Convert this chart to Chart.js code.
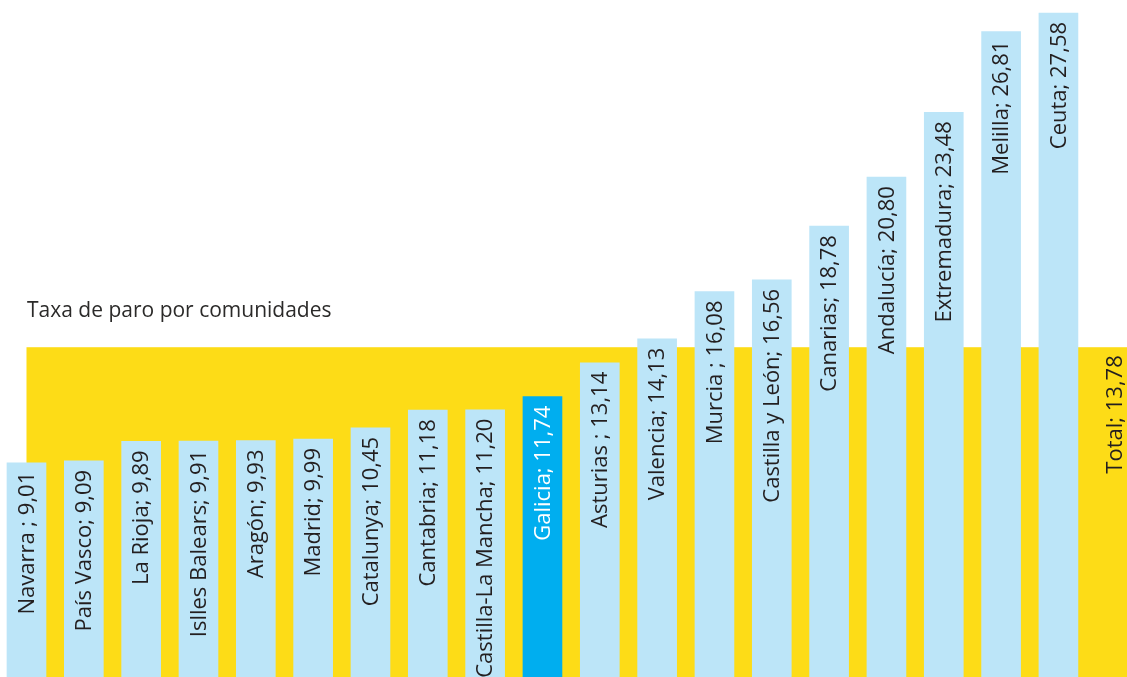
<!DOCTYPE html>
<html>
<head>
<meta charset="utf-8">
<script src="https://cdn.jsdelivr.net/npm/chart.js@4.4.1/dist/chart.umd.min.js"></script>
<style>
  html, body { margin: 0; padding: 0; background: #ffffff; overflow: hidden; }
  #wrap { position: relative; width: 1127px; height: 677px; }
  #title { position: absolute; left: 27px; top: 295px; font-family: "Open Sans", sans-serif; font-size: 21px; line-height: 28px; color: #2b2a29; white-space: nowrap; z-index: 2; }
  canvas { position: absolute; left: 0; top: 0; }
</style>
</head>
<body>
<div id="wrap">
  <canvas id="c" width="1127" height="677"></canvas>
  <div id="title">Taxa de paro por comunidades</div>
</div>
<script>
// ---- data ----
const categories = ["Navarra ", "País Vasco", "La Rioja", "Islles Balears", "Aragón", "Madrid", "Catalunya", "Cantabria", "Castilla-La Mancha", "Galicia", "Asturias ", "Valencia", "Murcia ", "Castilla y León", "Canarias", "Andalucía", "Extremadura", "Melilla", "Ceuta"];
const values = [9.01, 9.09, 9.89, 9.91, 9.93, 9.99, 10.45, 11.18, 11.20, 11.74, 13.14, 14.13, 16.08, 16.56, 18.78, 20.80, 23.48, 26.81, 27.58];
const totalLabel = "Total";
const totalValue = 13.78;
const highlight = "Galicia";

const fmt = v => v.toFixed(2).replace('.', ',');
const barLabels = categories.map((c, i) => c + "; " + fmt(values[i]));

const LIGHT = '#bce5f8', STRONG = '#00aeef', YELLOW = '#fddc17', TEXT = '#231f20';

const points = values.map((v, i) => ({ x: i, y: v }));
const colors = categories.map(c => c === highlight ? STRONG : LIGHT);

const FONT = '22px "Open Sans", sans-serif';

const bandPlugin = {
  id: 'band',
  beforeDatasetsDraw(chart) {
    const { ctx, chartArea, scales } = chart;
    const x0 = scales.x.getPixelForValue(0);
    const yTop = scales.y.getPixelForValue(totalValue);
    ctx.save();
    ctx.fillStyle = YELLOW;
    ctx.fillRect(x0, yTop, chartArea.right - x0, chartArea.bottom - yTop);
    ctx.restore();
  }
};

const labelPlugin = {
  id: 'barlabels',
  afterDatasetsDraw(chart) {
    const { ctx, scales } = chart;
    const meta = chart.getDatasetMeta(0);
    ctx.save();
    ctx.font = FONT;
    ctx.textAlign = 'right';
    ctx.textBaseline = 'middle';
    meta.data.forEach((el, i) => {
      ctx.save();
      ctx.fillStyle = categories[i] === highlight ? '#ffffff' : TEXT;
      ctx.translate(el.x + 1, el.y + 9);
      ctx.rotate(-Math.PI / 2);
      ctx.fillText(barLabels[i], 0, 0);
      ctx.restore();
    });
    // total label at the next slot
    const tx = scales.x.getPixelForValue(categories.length);
    const ty = scales.y.getPixelForValue(totalValue);
    ctx.fillStyle = TEXT;
    ctx.translate(tx, ty + 8);
    ctx.rotate(-Math.PI / 2);
    ctx.fillText(totalLabel + "; " + fmt(totalValue), 0, 0);
    ctx.restore();
  }
};

new Chart(document.getElementById('c'), {
  type: 'bar',
  data: {
    datasets: [{
      data: points,
      backgroundColor: colors,
      barThickness: 39,
      borderWidth: 0
    }]
  },
  options: {
    responsive: false,
    animation: false,
    devicePixelRatio: 1,
    layout: { padding: 0 },
    plugins: { legend: { display: false }, tooltip: { enabled: false }, title: { display: false } },
    scales: {
      x: { type: 'linear', display: false, min: -0.4622, max: 19.196, offset: false },
      y: { type: 'linear', display: false, min: 0.165, max: 28.115 }
    }
  },
  plugins: [bandPlugin, labelPlugin]
});
</script>
</body>
</html>
